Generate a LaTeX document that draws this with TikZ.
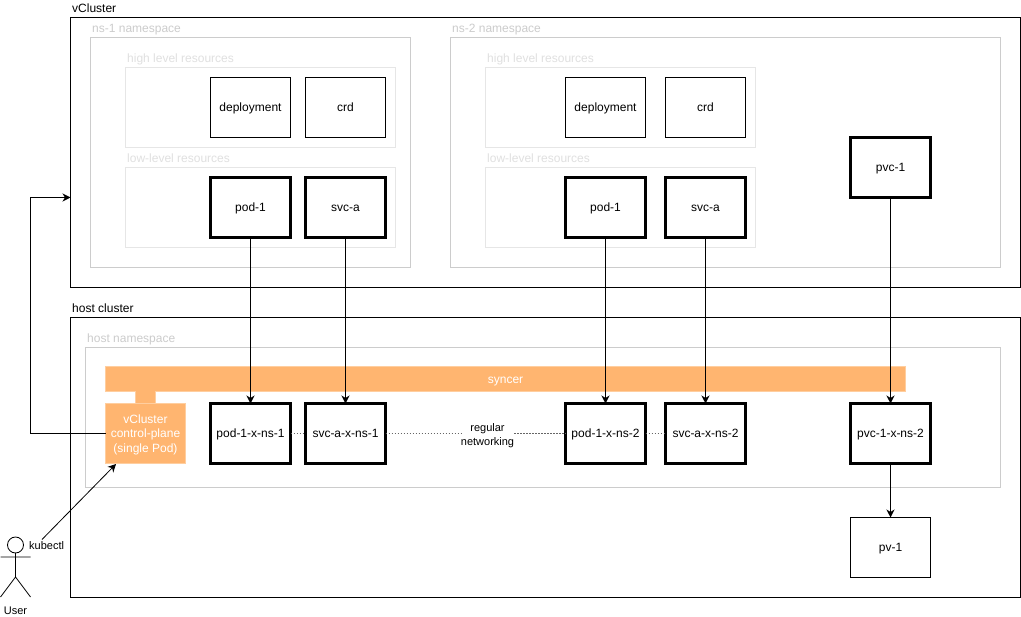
\documentclass[tikz,border=0pt]{standalone}
\usepackage{fontspec}
\setmainfont{Liberation Sans}
\usetikzlibrary{arrows.meta}
\definecolor{paleline}{HTML}{CCCCCC}
\definecolor{paleinner}{HTML}{E6E6E6}
\definecolor{paletext}{HTML}{CCCCCC}
\definecolor{paleinnertext}{HTML}{E0E0E0}
\definecolor{syncfill}{HTML}{FFB570}
\definecolor{syncedge}{HTML}{FFCE9F}
\tikzset{
  region/.style={draw=black,line width=1pt,fill=white},
  palebox/.style={draw=paleline,line width=1pt},
  innerbox/.style={draw=paleinner,line width=1pt},
  title/.style={anchor=base west,inner sep=0pt,font=\fontsize{12}{14}\selectfont},
  paletitle/.style={title,text=paletext},
  innertitle/.style={title,text=paleinnertext},
  res/.style={draw=black,line width=1pt,fill=white,minimum width=80pt,minimum height=60pt,inner sep=0pt,outer sep=0pt,text height=8pt,text depth=0pt,font=\fontsize{12}{14}\selectfont},
  thickres/.style={res,line width=3pt},
  orange/.style={draw=syncedge,line width=1pt,fill=syncfill,inner sep=0pt,outer sep=0pt,text=white,align=center,font=\fontsize{12}{14.4}\selectfont},
  link/.style={draw=black,line width=1pt,-{Stealth[length=8pt,width=8pt,inset=2.5pt]}},
  net/.style={draw=black!60,line width=0.7pt,dash pattern=on 1.5pt off 1.5pt},
  small/.style={inner sep=0pt,font=\fontsize{11}{14}\selectfont,align=center}
}
\begin{document}
\begin{tikzpicture}[x=1pt,y=-1pt]
\useasboundingbox (0,0) rectangle (1021,617);
% regions
\draw[region] (70.5,17.5) rectangle (1020.5,287.5);
\draw[region] (70.5,317.5) rectangle (1020.5,597.5);
\node[title] (tv) at (72,12.5) {vCluster};
\node[title] (th) at (72,312.5) {host cluster};
% pale regions
\draw[palebox] (90.5,37.5) rectangle (410.5,267.5);
\draw[palebox] (450.5,37.5) rectangle (1000.5,267.5);
\draw[innerbox] (125.5,67.5) rectangle (395.5,147.5);
\draw[innerbox] (125.5,167.5) rectangle (395.5,247.5);
\draw[innerbox] (485.5,67.5) rectangle (755.5,147.5);
\draw[innerbox] (485.5,167.5) rectangle (755.5,247.5);
\draw[palebox] (85.5,347.5) rectangle (1000.5,487.5);
\node[paletitle] (t1) at (92,32.5) {ns-1 namespace};
\node[paletitle] (t2) at (452,32.5) {ns-2 namespace};
\node[innertitle] (t3) at (127,62.5) {high level resources};
\node[innertitle] (t4) at (127,162.5) {low-level resources};
\node[innertitle] (t5) at (487,62.5) {high level resources};
\node[innertitle] (t6) at (487,162.5) {low-level resources};
\node[paletitle] (t7) at (87,342.5) {host namespace};
% vCluster resources
\node[res] (dep1) at (250.5,107.5) {deployment};
\node[res] (crd1) at (345.5,107.5) {crd};
\node[thickres] (pod1) at (250.5,207.5) {pod-1};
\node[thickres] (svc1) at (345.5,207.5) {svc-a};
\node[res] (dep2) at (605.5,107.5) {deployment};
\node[res] (crd2) at (705.5,107.5) {crd};
\node[thickres] (pod2) at (605.5,207.5) {pod-1};
\node[thickres] (svc2) at (705.5,207.5) {svc-a};
\node[thickres] (pvc) at (890.5,167.5) {pvc-1};
% host
\node[orange,minimum width=20pt,minimum height=12pt] (tab) at (145.5,397.5) {};
\node[orange,minimum width=800pt,minimum height=25pt,text height=8pt,text depth=0pt] (sync) at (505.5,379.5) {syncer};
\node[orange,minimum width=80pt,minimum height=60pt] (cp) at (145.5,433.5) {\rule{0pt}{10.7pt}vCluster\\control-plane\\(single Pod)};
\fill[syncfill] (136,391.5) rectangle (155,403.5);
\node[thickres] (podx1) at (250.5,433.5) {pod-1-x-ns-1};
\node[thickres] (svcx1) at (345.5,433.5) {svc-a-x-ns-1};
\node[thickres] (podx2) at (605.5,433.5) {pod-1-x-ns-2};
\node[thickres] (svcx2) at (705.5,433.5) {svc-a-x-ns-2};
\node[thickres] (pvcx) at (890.5,433.5) {pvc-1-x-ns-2};
\node[res] (pv) at (890.5,547.5) {pv-1};
\node[small] (reg) at (487.5,435.5) {regular\\networking};
% connectors
\draw[link] (pod1.south) -- (podx1.north);
\draw[link] (svc1.south) -- (svcx1.north);
\draw[link] (pod2.south) -- (podx2.north);
\draw[link] (svc2.south) -- (svcx2.north);
\draw[link] (pvc.south) -- (pvcx.north);
\draw[link] (pvcx.south) -- (pv.north);
\draw[net] (podx1.east) -- (svcx1.west);
\draw[net] (svcx1.east) -- (reg.west |- svcx1.east);
\draw[net] (reg.east |- podx2.west) -- (podx2.west);
\draw[net] (podx2.east) -- (svcx2.west);
\coordinate (vin) at (70.5,197.5);
\draw[link] (cp.west) -- (30.5,433.5) -- (30.5,197.5) -- (vin);
% user
\coordinate (head) at (15.5,545);
\coordinate (kout) at (42,539.5);
\coordinate (kin) at (116,464);
\draw[line width=0.8pt] (head) circle[radius=8];
\draw[line width=0.8pt] (15.5,553) -- (15.5,577) (0.5,557) -- (30.5,557) (0.5,597) -- (15.5,577) -- (30.5,597);
\node[small,anchor=base] (user) at (15.5,614) {User};
\node[small,anchor=base west] (kub) at (29,550) {kubectl};
\draw[link,line width=0.8pt] (kout) -- (kin);
\end{tikzpicture}
\end{document}
